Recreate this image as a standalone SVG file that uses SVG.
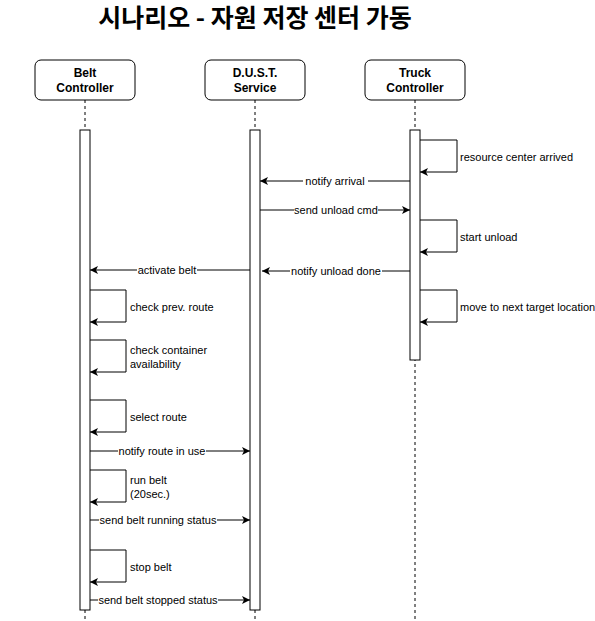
<svg xmlns="http://www.w3.org/2000/svg" width="595" height="621" viewBox="0 0 595 621">
<defs>
<marker id="ah" markerWidth="10" markerHeight="10" refX="8" refY="4" orient="auto" markerUnits="userSpaceOnUse">
<path d="M0,0 L8,4 L0,8 L2,4 Z" fill="#000"/>
</marker>
<style>
.box{fill:#fff;stroke:#000;stroke-width:1}
.life{stroke:#000;stroke-width:1;stroke-dasharray:3,3;fill:none}
.bar{fill:#fff;stroke:#000;stroke-width:1}
.msg{stroke:#000;stroke-width:1;fill:none;marker-end:url(#ah)}
.lbl{font-family:"Liberation Sans",Arial,sans-serif;font-size:11px;fill:#000}
.ml{font-family:"Liberation Sans",Arial,sans-serif;font-size:11px;fill:#000;text-anchor:middle}
.bg{fill:#fff}
.hd{font-family:"Liberation Sans",Arial,sans-serif;font-size:12px;font-weight:bold;fill:#000;text-anchor:middle}
.title{font-family:"Noto Sans CJK KR","Noto Sans",sans-serif;font-size:25px;font-weight:bold;fill:#000;text-anchor:middle}
</style>
</defs>
<rect width="595" height="621" fill="#fff"/>
<text class="title" x="255" y="27">시나리오 - 자원 저장 센터 가동</text>

<g id="belt">
<line class="life" x1="85" y1="100" x2="85" y2="621"/>
<rect class="box" x="35" y="60" width="100" height="40" rx="6"/>
<text class="hd" x="85" y="77">Belt</text>
<text class="hd" x="85" y="92">Controller</text>
<rect class="bar" x="80" y="130" width="10" height="480"/>
</g>
<g id="dust">
<line class="life" x1="255" y1="100" x2="255" y2="621"/>
<rect class="box" x="205" y="60" width="100" height="40" rx="6"/>
<text class="hd" x="255" y="77">D.U.S.T.</text>
<text class="hd" x="255" y="92">Service</text>
<rect class="bar" x="250" y="130" width="10" height="480"/>
</g>
<g id="truck">
<line class="life" x1="415" y1="100" x2="415" y2="621"/>
<rect class="box" x="365" y="60" width="100" height="40" rx="6"/>
<text class="hd" x="415" y="77">Truck</text>
<text class="hd" x="415" y="92">Controller</text>
<rect class="bar" x="410" y="130" width="10" height="230"/>
</g>

<g id="connectors">
<path class="msg" d="M420,140 H457 V172 H420"/>
<text class="lbl" x="460" y="161">resource center arrived</text>
<path class="msg" d="M420,220 H457 V252 H420"/>
<text class="lbl" x="460" y="241">start unload</text>
<path class="msg" d="M420,290 H457 V322 H420"/>
<text class="lbl" x="460" y="311">move to next target location</text>

<path class="msg" d="M410,181 H260"/>
<rect class="bg" x="303" y="174" width="65" height="13"/>
<text class="ml" x="335" y="185">notify arrival</text>
<path class="msg" d="M260,210 H410"/>
<rect class="bg" x="294" y="203" width="84" height="13"/>
<text class="ml" x="336" y="214">send unload cmd</text>
<path class="msg" d="M410,271 H262"/>
<rect class="bg" x="290" y="264" width="92" height="13"/>
<text class="ml" x="336" y="275">notify unload done</text>
<path class="msg" d="M250,270 H90"/>
<rect class="bg" x="137" y="263" width="60" height="13"/>
<text class="ml" x="167" y="274">activate belt</text>

<path class="msg" d="M90,290 H126 V322 H90"/>
<text class="lbl" x="130" y="311">check prev. route</text>
<path class="msg" d="M90,340 H126 V372 H90"/>
<text class="lbl" x="130" y="354">check container</text>
<text class="lbl" x="130" y="368">availability</text>
<path class="msg" d="M90,400 H126 V432 H90"/>
<text class="lbl" x="130" y="421">select route</text>

<path class="msg" d="M90,451 H250"/>
<rect class="bg" x="118" y="444" width="88" height="13"/>
<text class="ml" x="162" y="455">notify route in use</text>

<path class="msg" d="M90,470 H126 V502 H90"/>
<text class="lbl" x="130" y="484">run belt</text>
<text class="lbl" x="130" y="498">(20sec.)</text>

<path class="msg" d="M90,520 H250"/>
<rect class="bg" x="99" y="513" width="118" height="13"/>
<text class="ml" x="158" y="524">send belt running status</text>

<path class="msg" d="M90,550 H126 V582 H90"/>
<text class="lbl" x="130" y="571">stop belt</text>

<path class="msg" d="M90,600 H250"/>
<rect class="bg" x="98" y="593" width="120" height="13"/>
<text class="ml" x="158" y="604">send belt stopped status</text>
</g>
</svg>
